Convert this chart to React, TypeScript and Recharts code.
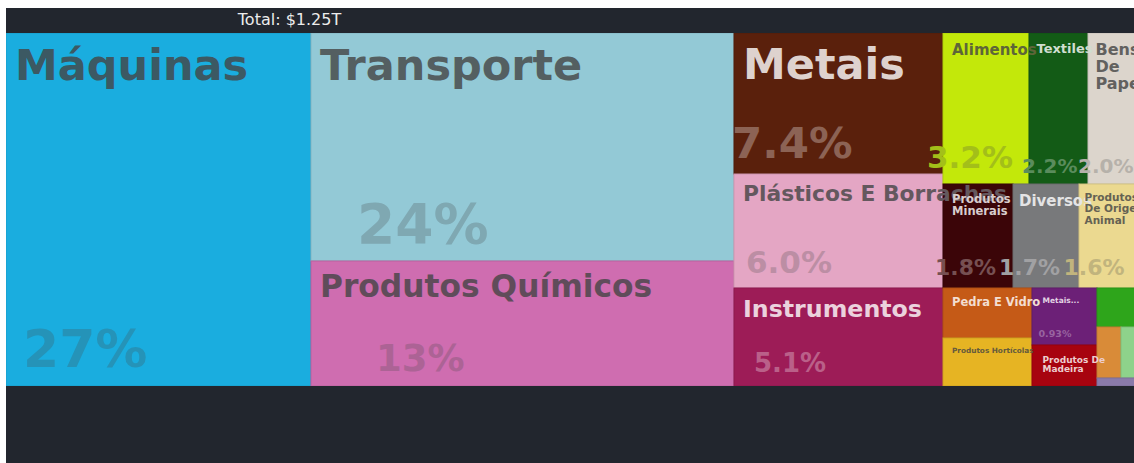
import React from "react";
import { Treemap } from "recharts";

// ---------- data ----------
const SECTORS = [
  "Máquinas",
  "Transporte",
  "Produtos Químicos",
  "Metais",
  "Plásticos E Borrachas",
  "Instrumentos",
  "Alimentos",
  "Textiles",
  "Bens De Papel",
  "Produtos Minerais",
  "Diversos",
  "Produtos De Origem Animal",
  "Pedra E Vidro",
  "Produtos Hortícolas",
  "Metais Preciosos",
  "Produtos De Madeira",
  "Calçados E Chapéus",
  "Peles De Animais",
  "Gorduras Animais E Vegetais",
  "Armas",
  "Obras De Arte",
];

// export value, billions of US$
const EXPORTS_BN = [
  335.6, 300.3, 165.4, 92.1, 74.5, 63.4, 40.3, 27.6, 25.5, 22.8, 21.5, 20.3,
  13.8, 13.5, 11.6, 8.3, 5.5, 3.8, 3.3, 1.1, 0.1,
];

// ---------- styles ----------
const SECTOR_COLORS = [
  "#1aaddf", "#93c9d6", "#cf6db0", "#5a200c", "#e4a6c4", "#9d1c57", "#c3e80a",
  "#135b16", "#dcd5cc", "#3b0508", "#78797b", "#ebd990", "#c55a17", "#e6b423",
  "#6c2077", "#a7030f", "#2ea51b", "#d98b38", "#8ed28b", "#8a7aaa", "#b08a6a",
];

type LabelStyle = {
  ns: number; // name font size
  ny: number; // first name baseline offset from cell top
  nx?: number; // name x offset from cell left
  lh?: number; // line height
  lines?: string[];
  ss?: number; // share font size
  sx?: number; // share x offset from cell left
  sy?: number; // share baseline offset from cell bottom
};

const LABEL_STYLES: Record<string, LabelStyle> = {
  "Máquinas": { ns: 43, ny: 46.5, ss: 52, sx: 17, sy: 19 },
  "Transporte": { ns: 43, ny: 46.5, ss: 55, sx: 46, sy: 18 },
  "Produtos Químicos": { ns: 31.3, ny: 35.7, ss: 37, sx: 65, sy: 15.3 },
  "Metais": { ns: 43, ny: 46.3, ss: 43.5, sx: -2, sy: 16.3 },
  "Plásticos E Borrachas": { ns: 21.8, ny: 26.7, ss: 31, sx: 12, sy: 15.3 },
  "Instrumentos": { ns: 23.7, ny: 28.7, ss: 26, sx: 20, sy: 13.7 },
  "Alimentos": { ns: 15, ny: 22, ss: 31, sx: -16, sy: 15.7 },
  "Textiles": { ns: 13, ny: 19.7, nx: 7.5, ss: 20, sx: -7, sy: 11.3 },
  "Bens De Papel": { ns: 16, ny: 22, nx: 7.5, lh: 17, lines: ["Bens", "De", "Papel"], ss: 20, sx: -10, sy: 11.3 },
  "Produtos Minerais": { ns: 11.5, ny: 18.7, lh: 12.3, lines: ["Produtos", "Minerais"], ss: 22, sx: -8, sy: 13 },
  "Diversos": { ns: 15, ny: 22, nx: 6, ss: 22, sx: -14, sy: 13 },
  "Produtos De Origem Animal": { ns: 10.5, ny: 16.7, nx: 5.5, lh: 11.7, lines: ["Produtos", "De Origem", "Animal"], ss: 22, sx: -15.5, sy: 13 },
  "Pedra E Vidro": { ns: 11.5, ny: 18 },
  "Produtos Hortícolas": { ns: 7.3, ny: 14.7 },
  "Metais Preciosos": { ns: 7.5, ny: 15.3, nx: 10.5, lines: ["Metais..."], ss: 9.5, sx: 6.5, sy: 8.3 },
  "Produtos De Madeira": { ns: 9, ny: 17.7, nx: 10.5, lh: 9, lines: ["Produtos De", "Madeira"] },
};

const BG = "#22262e";
const FONT = "DejaVu Sans";

const DATA = SECTORS.map((name, i) => ({ name, value: EXPORTS_BN[i] }));
const TOTAL = EXPORTS_BN.reduce((a, b) => a + b, 0);

const colorOf = (name: string) => SECTOR_COLORS[SECTORS.indexOf(name)] ?? "#888888";

function rgb(h: string): number[] {
  const n = parseInt(h.slice(1), 16);
  return [(n >> 16) & 255, (n >> 8) & 255, n & 255];
}
function mix(a: string, b: string, t: number): string {
  const A = rgb(a);
  const B = rgb(b);
  const c = A.map((v, i) => Math.round(v * (1 - t) + B[i] * t));
  return `rgb(${c[0]},${c[1]},${c[2]})`;
}
function lum(h: string): number {
  const [r, g, b] = rgb(h);
  return 0.299 * r + 0.587 * g + 0.114 * b;
}

const renderRect = (props: any) => {
  const { x, y, width, height, depth, name } = props;
  if (depth !== 1) return <g />;
  const c = colorOf(name);
  return (
    <rect
      x={x}
      y={y}
      width={width}
      height={height}
      fill={c}
      stroke={mix(c, "#000000", 0.1)}
      strokeWidth={1}
    />
  );
};

const renderLabel = (props: any) => {
  const { x, y, height, depth, name } = props;
  if (depth !== 1) return <g />;
  const st = LABEL_STYLES[name];
  if (!st) return <g />;
  const c = colorOf(name);
  const dark = lum(c) < 128;
  const nameFill = dark ? mix(c, "#ffffff", 0.8) : mix(c, "#444444", 0.8);
  const shareFill = dark ? mix(c, "#ffffff", 0.3) : mix(c, "#444444", 0.25);
  const lines = st.lines ?? [name];
  const lh = st.lh ?? st.ns * 1.1;
  const nx = st.nx ?? 9;
  const v = EXPORTS_BN[SECTORS.indexOf(name)];
  const share = ((v / TOTAL) * 100).toPrecision(2) + "%";
  return (
    <g>
      {lines.map((ln, i) => (
        <text
          key={i}
          x={x + nx}
          y={y + st.ny + i * lh}
          fontSize={st.ns}
          fontWeight="bold"
          fontFamily={FONT}
          fill={nameFill}
        >
          {ln}
        </text>
      ))}
      {st.ss ? (
        <text
          x={x + (st.sx ?? 9)}
          y={y + height - (st.sy ?? 10)}
          fontSize={st.ss}
          fontWeight="bold"
          fontFamily={FONT}
          fill={shareFill}
        >
          {share}
        </text>
      ) : null}
    </g>
  );
};

const RATIO = (1 + Math.sqrt(5)) / 2;

export default function App() {
  return (
    <div>
      <style>{`html,body{margin:0;padding:0;overflow:hidden;background:#ffffff;}`}</style>
      <div
        style={{
          position: "absolute",
          left: 6,
          top: 8,
          width: 1128,
          height: 455,
          background: BG,
          overflow: "hidden",
        }}
      >
        <svg width={1128} height={25} style={{ position: "absolute", left: 0, top: 0 }}>
          <text
            x={283.5}
            y={16.5}
            textAnchor="middle"
            fontFamily={FONT}
            fontSize={16}
            fill="#ececec"
          >
            {`Total: $${(TOTAL / 1000).toFixed(2)}T`}
          </text>
        </svg>
        <div style={{ position: "absolute", left: 0, top: 25 }}>
          <Treemap
            width={1136}
            height={353}
            data={DATA}
            dataKey="value"
            nameKey="name"
            aspectRatio={RATIO}
            isAnimationActive={false}
            content={renderRect}
          />
        </div>
        <div style={{ position: "absolute", left: 0, top: 25 }}>
          <Treemap
            width={1136}
            height={353}
            data={DATA}
            dataKey="value"
            nameKey="name"
            aspectRatio={RATIO}
            isAnimationActive={false}
            content={renderLabel}
          />
        </div>
      </div>
    </div>
  );
}
